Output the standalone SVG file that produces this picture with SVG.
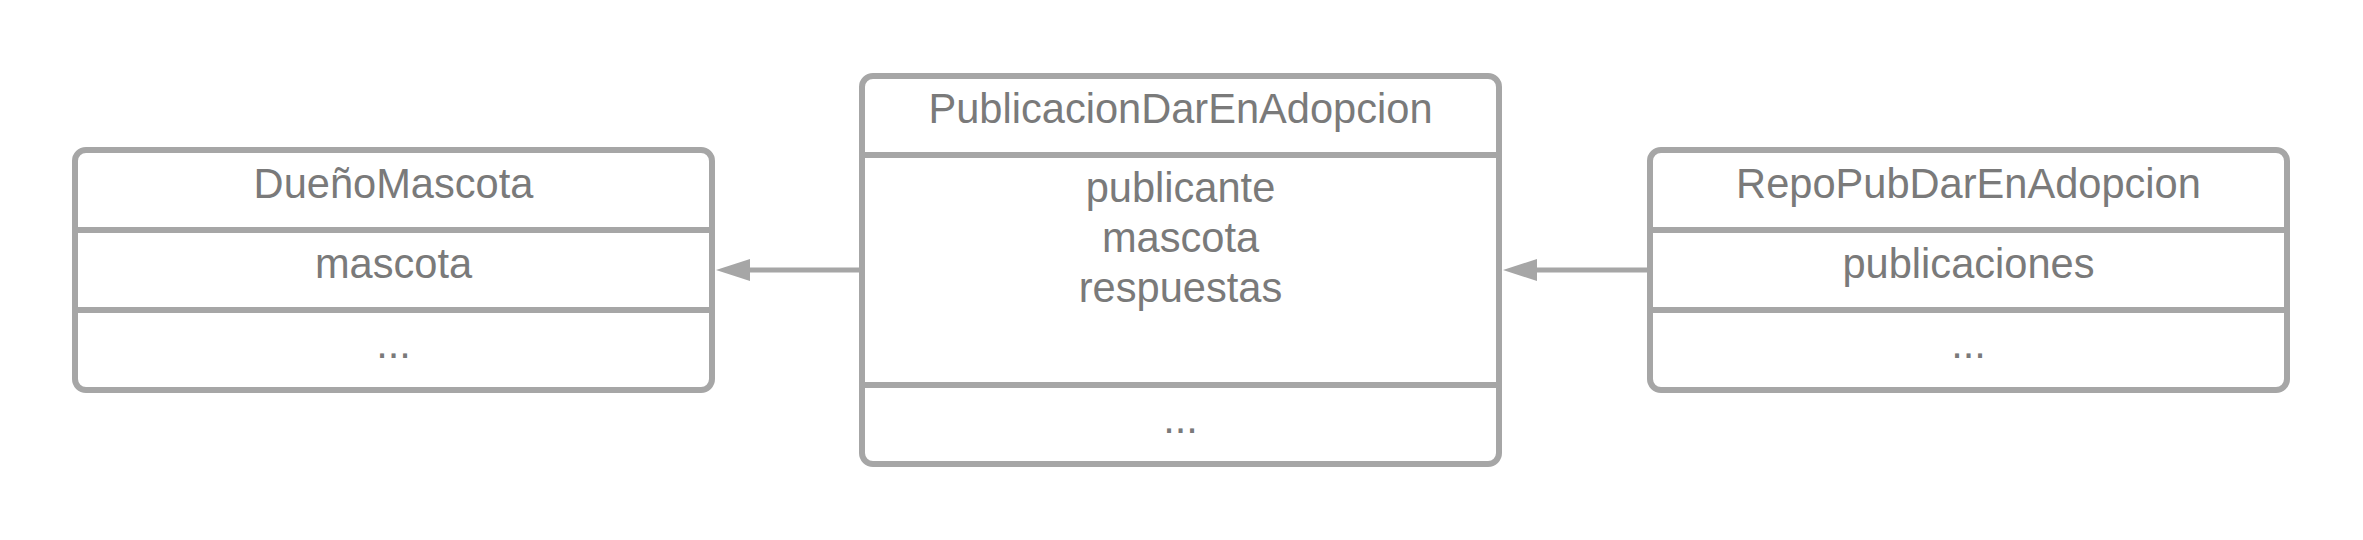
<svg xmlns="http://www.w3.org/2000/svg" width="2363" height="540" viewBox="0 0 2363 540">
<style>
.box{fill:#ffffff;stroke:#a6a6a6;stroke-width:6}
.div{stroke:#a6a6a6;stroke-width:6}
.t{font-family:"Liberation Sans",Arial,sans-serif;font-size:41.6px;fill:#7a7a7a;text-anchor:middle}
.c{stroke:#a6a6a6;stroke-width:5;fill:none}
.ah{fill:#a6a6a6}
</style>
<rect width="2363" height="540" fill="#ffffff"/>
<g id="DuenoMascota">
<rect class="box" x="75" y="150" width="637" height="240" rx="11"/>
<line class="div" x1="75" y1="230" x2="712" y2="230"/>
<line class="div" x1="75" y1="310" x2="712" y2="310"/>
<text class="t" x="393.5" y="198">DueñoMascota</text>
<text class="t" x="393.5" y="278">mascota</text>
<text class="t" x="393.5" y="358">...</text>
</g>
<g id="PublicacionDarEnAdopcion">
<rect class="box" x="862" y="76" width="637" height="388" rx="11"/>
<line class="div" x1="862" y1="155" x2="1499" y2="155"/>
<line class="div" x1="862" y1="385" x2="1499" y2="385"/>
<text class="t" x="1180.5" y="123">PublicacionDarEnAdopcion</text>
<text class="t" x="1180.5" y="202">publicante</text>
<text class="t" x="1180.5" y="252">mascota</text>
<text class="t" x="1180.5" y="302">respuestas</text>
<text class="t" x="1180.5" y="433">...</text>
</g>
<g id="RepoPubDarEnAdopcion">
<rect class="box" x="1650" y="150" width="637" height="240" rx="11"/>
<line class="div" x1="1650" y1="230" x2="2287" y2="230"/>
<line class="div" x1="1650" y1="310" x2="2287" y2="310"/>
<text class="t" x="1968.5" y="198">RepoPubDarEnAdopcion</text>
<text class="t" x="1968.5" y="278">publicaciones</text>
<text class="t" x="1968.5" y="358">...</text>
</g>
<g id="connectors">
<line class="c" x1="860" y1="270" x2="748" y2="270"/>
<polygon class="ah" points="716,270 750,259 750,281"/>
<line class="c" x1="1648" y1="270" x2="1535" y2="270"/>
<polygon class="ah" points="1503,270 1537,259 1537,281"/>
</g>
</svg>
